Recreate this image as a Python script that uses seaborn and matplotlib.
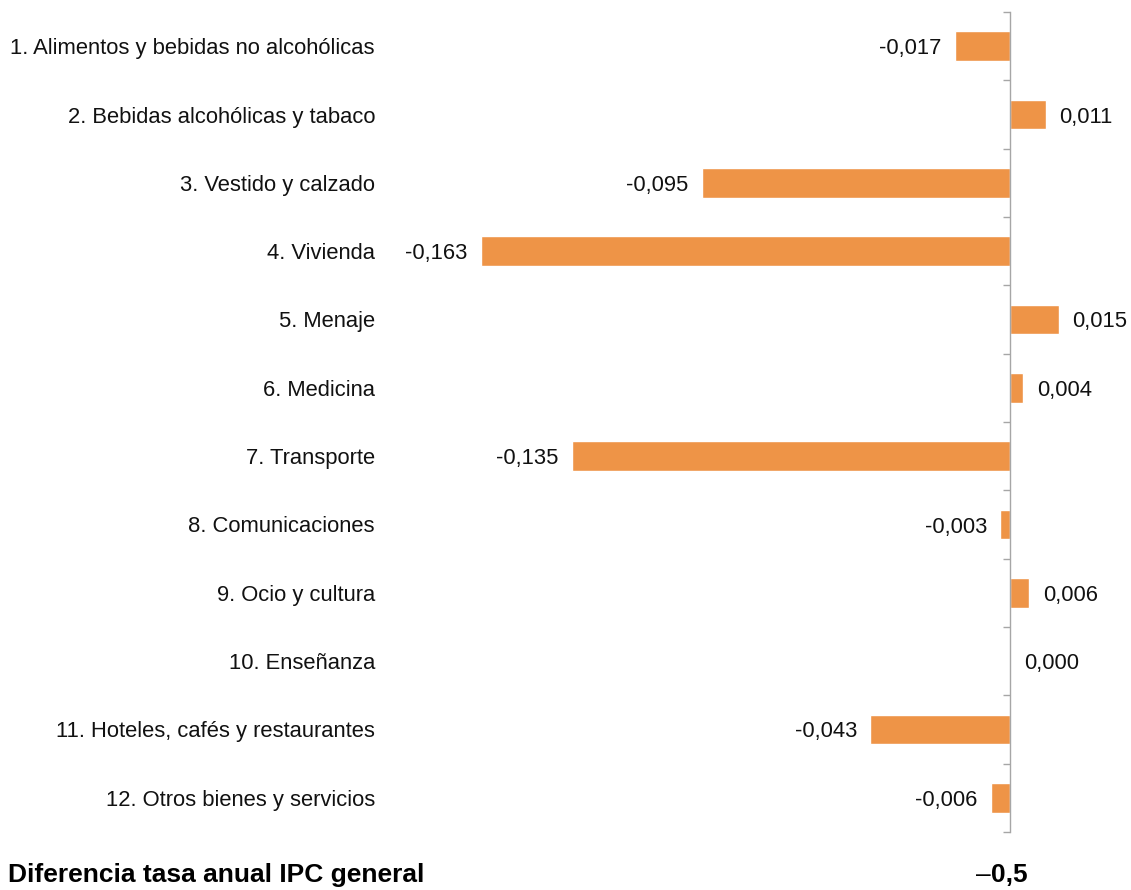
import pandas as pd
import matplotlib.pyplot as plt
import matplotlib.transforms as mtransforms
import seaborn as sns

# Datos: contribución por grupos a la diferencia de la tasa anual
grupos = [
    "1. Alimentos y bebidas no alcohólicas",
    "2. Bebidas alcohólicas y tabaco",
    "3. Vestido y calzado",
    "4. Vivienda",
    "5. Menaje",
    "6. Medicina",
    "7. Transporte",
    "8. Comunicaciones",
    "9. Ocio y cultura",
    "10. Enseñanza",
    "11. Hoteles, cafés y restaurantes",
    "12. Otros bienes y servicios",
]
valores = [-0.017, 0.011, -0.095, -0.163, 0.015, 0.004, -0.135,
           -0.003, 0.006, 0.000, -0.043, -0.006]
titulo_total = "Diferencia tasa anual IPC general"
valor_total = "0,5"

df = pd.DataFrame({"grupo": grupos, "valor": valores})

sns.set_theme(style="white")
plt.rcParams['font.family'] = ['Liberation Sans', 'DejaVu Sans']

W, H = 1131, 890
fig = plt.figure(figsize=(W / 100, H / 100), dpi=100)
ax_left, ax_right, ax_top, ax_bottom = 400, 1131, 12, 832
ax = fig.add_axes([ax_left / W, (H - ax_bottom) / H,
                   (ax_right - ax_left) / W, (ax_bottom - ax_top) / H])

sns.barplot(data=df, x="valor", y="grupo", orient="h", color="#EE9447",
            saturation=1, width=0.43, ax=ax)

# escala: cero en x=1010 px, 3245 px por unidad
px_unit = 3245
ax.set_xlim(-(1010 - ax_left) / px_unit, (ax_right - 1010) / px_unit)
ax.set_ylim(len(grupos) - 0.5, -0.5)

for s in ["top", "right", "bottom"]:
    ax.spines[s].set_visible(False)
ax.spines["left"].set_position(("data", 0))
ax.spines["left"].set_color("#A6A6A6")
ax.spines["left"].set_linewidth(1.0)
ax.set_xticks([])
ax.set_yticks([i - 0.5 for i in range(len(grupos) + 1)])
ax.set_yticklabels([])
ax.tick_params(axis="y", direction="out", length=5, width=1,
               color="#A6A6A6", left=True)
ax.set_xlabel("")
ax.set_ylabel("")

fs = 15.8
# etiquetas de categoría
trans = mtransforms.blended_transform_factory(fig.transFigure, ax.transData)
for i, g in enumerate(grupos):
    ax.text(375 / W, i, g, transform=trans, ha="right", va="center_baseline",
            fontsize=fs, color="#111111")

# etiquetas de valor
for i, v in enumerate(valores):
    txt = f"{v:.3f}".replace(".", ",")
    if v < 0:
        ax.annotate(txt, (v, i), xytext=(-9.5, 0), textcoords="offset points",
                    ha="right", va="center_baseline", fontsize=fs, color="#111111")
    else:
        ax.annotate(txt, (v, i), xytext=(10, 0), textcoords="offset points",
                    ha="left", va="center_baseline", fontsize=fs, color="#111111")

# total
fig.text(8 / W, (H - 882) / H, titulo_total, ha="left", va="baseline",
         fontsize=19, fontweight="bold", color="black")
fig.text(991 / W, (H - 882) / H, valor_total, ha="left", va="baseline",
         fontsize=19, fontweight="bold", color="black")
fig.text(991 / W, (H - 882) / H, "\u2013", ha="right", va="baseline",
         fontsize=19, color="black")

plt.savefig("out.png", dpi=100)
